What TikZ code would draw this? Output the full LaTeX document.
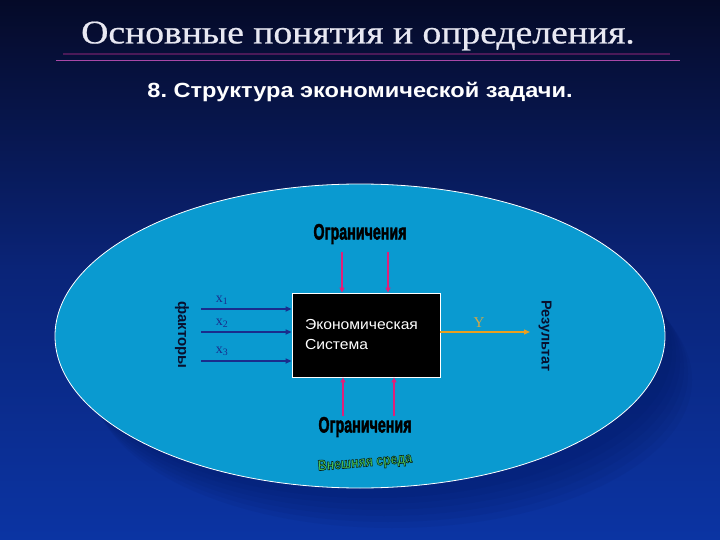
\documentclass[tikz,border=0pt]{standalone}
\usepackage{fontspec}
\setmainfont{Liberation Serif}
\setsansfont{Liberation Sans}
\newfontfamily\heavyfont[FakeBold=2.6]{Liberation Sans Bold}
\newfontfamily\titlefont[FakeBold=0.6]{Liberation Serif}
\newfontfamily\plainbold{Liberation Sans Bold}
\newcommand\strokedtext[3]{\special{pdf:literal direct q #1 RG #2 w 2 Tr}#3\special{pdf:literal direct Q}}
\usetikzlibrary{arrows.meta,shapes.geometric}
\definecolor{bgtop}{HTML}{050A28}
\definecolor{bgmid}{HTML}{0A2478}
\definecolor{bgbot}{HTML}{0B34A3}
\definecolor{ellc}{HTML}{0A9AD0}
\definecolor{shadc}{HTML}{031860}
\definecolor{titlec}{HTML}{E8E8F2}
\definecolor{linea}{HTML}{4A1A58}
\definecolor{lineb}{HTML}{A848A8}
\definecolor{xblue}{HTML}{1A2C8C}
\definecolor{magc}{HTML}{E0207A}
\definecolor{goldc}{HTML}{E8A020}
\definecolor{ylab}{HTML}{D0A848}
\definecolor{darkt}{HTML}{08102E}
\definecolor{greenc}{HTML}{48C858}
\begin{document}
\begin{tikzpicture}[x=1pt,y=-1pt,
  inarrow/.style={draw=xblue, line width=1.6pt, -{Triangle[length=6pt,width=5pt]}},
  magarrow/.style={draw=magc, line width=1.3pt, -{Triangle[length=5pt,width=5pt]}},
  yarrow/.style={draw=goldc, line width=1.3pt, -{Triangle[length=6pt,width=5pt]}},
  xlab/.style={text=xblue, font=\fontsize{14}{15}\selectfont, inner sep=0pt},
  vlab/.style={text=darkt, font=\sffamily\bfseries\fontsize{15}{16}\selectfont, rotate=-90, inner sep=0pt},
  ogr/.style={inner sep=0pt, text=black, font=\heavyfont\fontsize{21}{23}\selectfont}
]
\useasboundingbox (0,0) rectangle (720,540);
\shade[top color=bgtop, bottom color=bgbot, middle color=bgmid] (0,0) rectangle (720,540);

% shadow of the environment ellipse
\foreach \dx/\dy in {12/14, 16/20, 20/26, 24/32, 28/38, 32/44}
  \fill[shadc, opacity=0.09] (360+\dx,336+\dy) ellipse [x radius=300, y radius=148];

% environment ellipse
\node[ellipse, fill=ellc, draw=white, line width=0.8pt, minimum width=610pt, minimum height=304pt, inner sep=0pt] (env) at (360,336) {};

% environment label (outlined green text)
\node[inner sep=0pt, text=greenc, rotate=5, font=\plainbold\fontsize{15}{17}\selectfont] (ext) at (365,463)
  {\scalebox{0.82}[1]{\strokedtext{0.03 0.12 0.1}{0.6}{Внешняя среда}}};

% title
\node[text=titlec, font=\titlefont\fontsize{33}{36}\selectfont, inner sep=0pt] (title) at (358,36) {\scalebox{1.14}[1]{Основные понятия и определения.}};
\draw[linea, line width=1.6pt] (63,54) -- (670,54);
\draw[lineb, line width=1.6pt] (56,60.5) -- (680,60.5);
\node[text=white, font=\sffamily\bfseries\fontsize{20.5}{24}\selectfont, inner sep=0pt] (sub) at (360,92) {\frenchspacing\scalebox{1.15}[1]{8. Структура экономической задачи.}};

% system box
\node[fill=black, draw=white, line width=0.8pt, minimum width=148pt, minimum height=84pt,
      text width=122pt, inner xsep=13pt, align=left, text=white,
      font=\sffamily\fontsize{14.5}{20}\selectfont] (sys) at (366,335) {\scalebox{1.08}[1]{Экономическая}\\\scalebox{1.08}[1]{Система}};

% inputs
\coordinate (f1) at (201,309);
\coordinate (f2) at (201,332);
\coordinate (f3) at (201,361);
\draw[inarrow] (f1) -- (f1 -| sys.west);
\draw[inarrow] (f2) -- (f2 -| sys.west);
\draw[inarrow] (f3) -- (f3 -| sys.west);
\node[xlab] (x1) at (222,300) {x\textsubscript{1}};
\node[xlab] (x2) at (222,323) {x\textsubscript{2}};
\node[xlab] (x3) at (222,351) {x\textsubscript{3}};
\node[vlab] (fak) at (182,335) {факторы};

% constraints
\node[ogr] (ogrtop) at (360,234) {\scalebox{0.68}[1.05]{Ограничения}};
\node[ogr] (ogrbot) at (365,427) {\scalebox{0.68}[1.05]{Ограничения}};
\coordinate (t1) at (342,252);
\coordinate (t2) at (388,252);
\draw[magarrow] (t1) -- (t1 |- sys.north);
\draw[magarrow] (t2) -- (t2 |- sys.north);
\coordinate (b1) at (343,416);
\coordinate (b2) at (394,416);
\draw[magarrow] (b1) -- (b1 |- sys.south);
\draw[magarrow] (b2) -- (b2 |- sys.south);

% output
\coordinate (yend) at (530,332);
\draw[yarrow] (yend -| sys.east) -- (yend);
\node[text=ylab, font=\fontsize{15}{16}\selectfont, inner sep=0pt] (ylabel) at (479,323) {Y};
\node[vlab, font=\sffamily\bfseries\fontsize{14.5}{16}\selectfont] (res) at (545,336) {Результат};
\end{tikzpicture}
\end{document}
